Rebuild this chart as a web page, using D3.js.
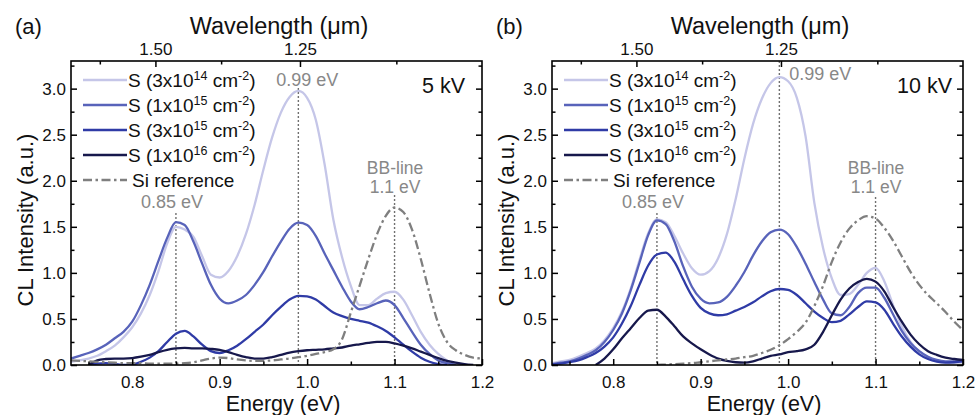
<!DOCTYPE html>
<html><head><meta charset="utf-8">
<script src="https://cdn.jsdelivr.net/npm/d3@7"></script>
<style>body{margin:0;background:#fff}svg{display:block}</style>
</head><body>
<svg id="c" width="976" height="415"></svg>
<script>
// ---------------- DATA ----------------
const energy = [0.73,0.74,0.75,0.76,0.77,0.78,0.79,0.80,0.81,0.82,0.83,0.84,0.85,0.86,0.87,0.88,0.89,0.90,0.91,0.92,0.93,0.94,0.95,0.96,0.97,0.98,0.99,1.00,1.01,1.02,1.03,1.04,1.05,1.06,1.07,1.08,1.09,1.10,1.11,1.12,1.13,1.14,1.15,1.16,1.17,1.18,1.19,1.20];

const xTicks = [0.8,0.9,1.0,1.1,1.2];
const xMinorTicks = [0.75,0.85,0.95,1.05,1.15];
const yTicks = [0,0.5,1.0,1.5,2.0,2.5,3.0];
const yMinorTicks = [0.25,0.75,1.25,1.75,2.25,2.75,3.25];
const wlMajorTicks = [1.50,1.25];
const wlMinorTicks = [1.625,1.375,1.125];

const legendDose = ["3x10","1x10","3x10","1x10"];
const legendExp  = ["14","15","15","16"];
const legendRef  = "Si reference";

// 5 kV panel (a)
const a_3e14 = [0.035,0.05,0.07,0.10,0.15,0.21,0.30,0.41,0.56,0.76,1.02,1.32,1.50,1.47,1.39,1.18,0.98,0.95,1.02,1.18,1.42,1.74,2.12,2.47,2.74,2.91,2.975,2.90,2.66,2.18,1.58,1.17,0.86,0.65,0.65,0.72,0.78,0.795,0.71,0.54,0.36,0.22,0.12,0.05,0.01,0,null,null];
const a_1e15 = [0.07,0.10,0.13,0.17,0.22,0.29,0.36,0.47,0.65,0.87,1.13,1.38,1.55,1.52,1.34,1.10,0.87,0.72,0.67,0.70,0.76,0.87,1.01,1.18,1.34,1.48,1.545,1.52,1.40,1.21,1.03,0.85,0.69,0.605,0.63,0.67,0.70,0.65,0.51,0.36,0.22,0.12,0.05,0.02,0,null,null,null];
const a_3e15 = [null,null,0,0.015,0.02,0.012,0,0.005,0.035,0.08,0.15,0.25,0.34,0.37,0.31,0.22,0.15,0.13,0.16,0.21,0.28,0.36,0.44,0.54,0.63,0.71,0.75,0.745,0.71,0.64,0.57,0.53,0.50,0.48,0.46,0.42,0.37,0.30,0.22,0.145,0.08,0.035,0.01,0,null,null,null,null];
const a_1e16 = [null,null,0,0.05,0.065,0.07,0.07,0.075,0.09,0.11,0.14,0.165,0.18,0.185,0.18,0.18,0.175,0.165,0.14,0.11,0.085,0.07,0.07,0.085,0.11,0.135,0.15,0.16,0.165,0.17,0.18,0.19,0.21,0.225,0.24,0.25,0.25,0.235,0.21,0.18,0.145,0.11,0.075,0.045,0.025,0.01,0,null];
const a_si   = [0.05,0.045,0.04,0.035,0.03,0.025,0.02,0.02,0.02,0.015,0.015,0.015,0.015,0.02,0.03,0.05,0.07,0.08,0.075,0.06,0.05,0.045,0.045,0.05,0.06,0.07,0.085,0.10,0.12,0.14,0.17,0.28,0.57,0.86,1.15,1.42,1.62,1.71,1.66,1.47,1.15,0.78,0.45,0.25,0.16,0.11,0.08,0.07];

// 10 kV panel (b)
const b_3e14 = [0.02,0.04,0.055,0.09,0.13,0.18,0.27,0.40,0.58,0.83,1.14,1.43,1.58,1.55,1.40,1.21,1.05,0.98,1.02,1.16,1.42,1.80,2.24,2.62,2.89,3.06,3.125,3.08,2.90,2.48,1.76,1.27,0.94,0.76,0.77,0.87,1.00,1.055,0.91,0.65,0.42,0.25,0.145,0.083,0.047,0.03,0.025,0.025];
const b_1e15 = [0.01,0.025,0.04,0.07,0.11,0.16,0.25,0.38,0.56,0.81,1.11,1.41,1.57,1.53,1.34,1.07,0.85,0.72,0.67,0.68,0.74,0.86,1.01,1.19,1.34,1.44,1.47,1.42,1.28,1.10,0.90,0.71,0.56,0.54,0.63,0.78,0.84,0.84,0.73,0.55,0.37,0.24,0.15,0.09,0.055,0.04,0.04,0.05];
const b_3e15 = [0.005,0.015,0.03,0.05,0.085,0.13,0.20,0.30,0.45,0.64,0.87,1.08,1.20,1.22,1.12,0.93,0.75,0.62,0.56,0.54,0.55,0.59,0.63,0.68,0.745,0.80,0.825,0.815,0.76,0.67,0.58,0.51,0.465,0.48,0.55,0.63,0.69,0.68,0.60,0.45,0.31,0.20,0.116,0.065,0.036,0.025,0.03,0.04];
const b_1e16 = [null,null,null,null,null,0,0.07,0.17,0.29,0.40,0.51,0.59,0.60,0.525,0.42,0.31,0.235,0.17,0.115,0.07,0.045,0.03,0.025,0.04,0.07,0.10,0.115,0.14,0.15,0.17,0.22,0.36,0.54,0.71,0.83,0.90,0.935,0.905,0.80,0.63,0.47,0.33,0.225,0.15,0.11,0.08,0.065,0.054];
const b_si   = [null,null,null,null,null,null,null,null,null,null,null,null,0,0.005,0.01,0.015,0.02,0.03,0.04,0.05,0.06,0.07,0.085,0.10,0.13,0.165,0.215,0.28,0.36,0.46,0.64,0.86,1.12,1.33,1.48,1.57,1.615,1.59,1.49,1.35,1.18,1.01,0.87,0.76,0.67,0.575,0.47,0.38];

// ---------------- STYLE / LAYOUT ----------------
const colors = ["#c5c6e8","#5863ba","#2f3ba6","#17184c","#7f7f7f"];
const font = "'Liberation Sans', Arial, Helvetica, sans-serif";
const annotColor = "#888888";
const PW = 411, PT = 61, PB = 365;

const panels = [
  {tag:"(a)", kv:"5 kV", left:71, kvX:394, s:[a_3e14,a_1e15,a_3e15,a_1e16,a_si],
   lab99:[9,86], dot99:88, dot11:195},
  {tag:"(b)", kv:"10 kV", left:552, kvX:400, s:[b_3e14,b_1e15,b_3e15,b_1e16,b_si],
   lab99:[41,80], dot99:61, dot11:197}
];

const svg = d3.select("#c");

panels.forEach((p, pi) => {
  const x = d3.scaleLinear().domain([0.73,1.2]).range([p.left, p.left+PW]);
  const y = d3.scaleLinear().domain([0,3.3]).range([PB, PT]);
  const g = svg.append("g");

  const cid = "clip"+pi;
  svg.append("clipPath").attr("id",cid).append("rect")
    .attr("x",p.left).attr("y",PT).attr("width",PW).attr("height",PB-PT);

  // dotted guide lines
  const guides = [[0.85,213],[0.99,p.dot99],[1.10,p.dot11]];
  guides.forEach(([e,y0]) => {
    g.append("line").attr("x1",x(e)).attr("x2",x(e)).attr("y1",y0).attr("y2",PB)
      .attr("stroke","#707070").attr("stroke-width",1.4).attr("stroke-dasharray","2,2");
  });

  // curves
  const line = d3.line().defined(d => d[1] !== null)
    .x(d => x(d[0])).y(d => y(d[1])).curve(d3.curveMonotoneX);
  const cg = g.append("g").attr("clip-path","url(#"+cid+")");
  p.s.forEach((vals, i) => {
    const pts = energy.map((e,k) => [e, vals[k]]);
    cg.append("path").attr("d", line(pts)).attr("fill","none")
      .attr("stroke", colors[i]).attr("stroke-width", 2.3)
      .attr("stroke-linejoin","round")
      .attr("stroke-dasharray", i===4 ? "9,3.5,2.5,3.5" : null);
  });

  // axes (ticks inside)
  const axStyle = sel => {
    sel.select(".domain").remove();
    sel.selectAll("line").attr("stroke","#000").attr("stroke-width",1.5);
    sel.selectAll("text").attr("font-family",font).attr("font-size",17).attr("fill","#111");
  };
  g.append("g").attr("transform",`translate(0,${PB})`)
    .call(d3.axisBottom(x).tickValues(xTicks).tickFormat(d3.format(".1f")).tickSizeInner(-6).tickSizeOuter(0).tickPadding(11)).call(axStyle);
  g.append("g").attr("transform",`translate(0,${PB})`)
    .call(d3.axisBottom(x).tickValues(xMinorTicks).tickFormat("").tickSizeInner(-3.5).tickSizeOuter(0)).call(axStyle);
  g.append("g").attr("transform",`translate(${p.left},0)`)
    .call(d3.axisLeft(y).tickValues(yTicks).tickFormat(d3.format(".1f")).tickSizeInner(-6).tickSizeOuter(0).tickPadding(5)).call(axStyle);
  g.append("g").attr("transform",`translate(${p.left},0)`)
    .call(d3.axisLeft(y).tickValues(yMinorTicks).tickFormat("").tickSizeInner(-3.5).tickSizeOuter(0)).call(axStyle);
  g.append("g").attr("transform",`translate(${p.left+PW},0)`)
    .call(d3.axisRight(y).tickValues(yTicks).tickFormat("").tickSizeInner(-6).tickSizeOuter(0)).call(axStyle);
  g.append("g").attr("transform",`translate(${p.left+PW},0)`)
    .call(d3.axisRight(y).tickValues(yMinorTicks).tickFormat("").tickSizeInner(-3.5).tickSizeOuter(0)).call(axStyle);
  // top wavelength axis (E = 1.2398 / lambda)
  const toE = l => 1.2398 / l;
  g.append("g").attr("transform",`translate(0,${PT})`)
    .call(d3.axisTop(x).tickValues(wlMajorTicks.map(toE))
      .tickFormat((d,k) => d3.format(".2f")(wlMajorTicks[k])).tickSizeInner(-6).tickSizeOuter(0).tickPadding(6)).call(axStyle);
  g.append("g").attr("transform",`translate(0,${PT})`)
    .call(d3.axisTop(x).tickValues(wlMinorTicks.map(toE)).tickFormat("").tickSizeInner(-3.5).tickSizeOuter(0)).call(axStyle);

  // frame
  g.append("rect").attr("x",p.left).attr("y",PT).attr("width",PW).attr("height",PB-PT)
    .attr("fill","none").attr("stroke","#000").attr("stroke-width",1.6);

  // titles
  const txt = (xx,yy,s,size,anchor,color) => g.append("text").attr("x",xx).attr("y",yy)
      .attr("font-family",font).attr("font-size",size).attr("text-anchor",anchor||"start")
      .attr("fill",color||"#111").text(s);
  txt(p.left-56, 34, p.tag, 22);
  txt(p.left+208, 34, "Wavelength (μm)", 23.5, "middle");
  txt(p.left+212, 411, "Energy (eV)", 21.5, "middle");
  g.append("text").attr("transform",`translate(${p.left-38},220) rotate(-90)`)
    .attr("font-family",font).attr("font-size",22).attr("text-anchor","middle").attr("fill","#111")
    .text("CL Intensity (a.u.)");
  txt(p.left+p.kvX, 93, p.kv, 21.5, "end");

  // annotations
  txt(x(0.99)+p.lab99[0], p.lab99[1], "0.99 eV", 18, "middle", annotColor);
  txt(x(0.85)-4, 208, "0.85 eV", 18, "middle", annotColor);
  txt(x(1.10)+0.5, 173.5, "BB-line", 17.5, "middle", annotColor);
  txt(x(1.10)+0.5, 192.5, "1.1 eV", 17.5, "middle", annotColor);

  // legend
  const lg = g.append("g");
  for (let i = 0; i < 5; i++) {
    const cy = 80 + i*25;
    lg.append("line").attr("x1",p.left+12).attr("x2",p.left+56).attr("y1",cy).attr("y2",cy)
      .attr("stroke",colors[i]).attr("stroke-width",2.3)
      .attr("stroke-dasharray", i===4 ? "9,3.5,2.5,3.5" : null);
    const t = lg.append("text").attr("x",p.left+57).attr("y",cy+6.5)
      .attr("font-family",font).attr("font-size",19).attr("fill","#111");
    if (i < 4) {
      t.append("tspan").text("S (" + legendDose[i]);
      t.append("tspan").attr("dy",-7).attr("font-size",12.5).text(legendExp[i]);
      t.append("tspan").attr("dy",7).text(" cm");
      t.append("tspan").attr("dy",-7).attr("font-size",12.5).text("-2");
      t.append("tspan").attr("dy",7).text(")");
    } else {
      t.attr("x", p.left+61).text(legendRef);
    }
  }
});
</script>
</body></html>
